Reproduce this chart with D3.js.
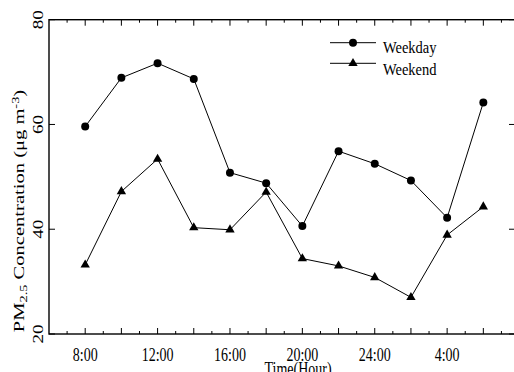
<!DOCTYPE html>
<html>
<head>
<meta charset="utf-8">
<script src="https://cdn.jsdelivr.net/npm/d3@7"></script>
<style>
  body { margin: 0; background: #fff; }
  svg { display: block; }
  text { font-family: "Liberation Serif", "Times New Roman", serif; fill: #000; }
</style>
</head>
<body>
<div id="svg-area"></div>
<script>
var svgWidth = 514;
var svgHeight = 372;

// hours since midnight of first day (28 = 4:00 next day)
var hours = [8, 10, 12, 14, 16, 18, 20, 22, 24, 26, 28, 30];
var weekday = [59.6, 68.9, 71.7, 68.7, 50.8, 48.8, 40.6, 54.9, 52.5, 49.3, 42.2, 64.2];
var weekend = [33.2, 47.2, 53.4, 40.3, 39.9, 47.1, 34.4, 33.0, 30.8, 27.0, 38.9, 44.3];
var xTickHours = [8, 12, 16, 20, 24, 28];
var xTickLabels = ["8:00", "12:00", "16:00", "20:00", "24:00", "4:00"];
var yTicks = [20, 40, 60, 80];
var seriesNames = ["Weekday", "Weekend"];

var margin = {left: 49, right: 515, top: 19.7, bottom: 334};
// the original figure is stretched vertically, so text is too
var stretch = 1.37;

var svg = d3.select("#svg-area")
  .append("svg")
  .attr("width", svgWidth)
  .attr("height", svgHeight);

var x = d3.scaleLinear().domain([6, 31.75]).range([margin.left, margin.right]);
var y = d3.scaleLinear().domain([20, 80]).range([margin.bottom, margin.top]);

// frame
svg.append("rect")
  .attr("x", margin.left).attr("y", margin.top)
  .attr("width", margin.right - margin.left)
  .attr("height", margin.bottom - margin.top)
  .attr("fill", "none").attr("stroke", "#000").attr("stroke-width", 1.4);

// x ticks, every hour, major on even hours
var allHours = d3.range(7, 32);
allHours.forEach(function(h) {
  var len = h % 2 === 0 ? 6 : 3;
  svg.append("line")
    .attr("x1", x(h)).attr("x2", x(h))
    .attr("y1", margin.bottom).attr("y2", margin.bottom - len)
    .attr("stroke", "#000").attr("stroke-width", 1);
  svg.append("line")
    .attr("x1", x(h)).attr("x2", x(h))
    .attr("y1", margin.top).attr("y2", margin.top + len)
    .attr("stroke", "#000").attr("stroke-width", 1);
});

xTickHours.forEach(function(h, i) {
  svg.append("text")
    .attr("transform", "translate(" + x(h) + ",361) scale(1," + stretch + ")")
    .attr("text-anchor", "middle")
    .style("font-size", "14px")
    .text(xTickLabels[i]);
});

// y ticks
yTicks.forEach(function(v) {
  svg.append("line")
    .attr("x1", margin.left).attr("x2", margin.left + 6)
    .attr("y1", y(v)).attr("y2", y(v))
    .attr("stroke", "#000").attr("stroke-width", 1);
  svg.append("line")
    .attr("x1", margin.right).attr("x2", margin.right - 6)
    .attr("y1", y(v)).attr("y2", y(v))
    .attr("stroke", "#000").attr("stroke-width", 1);
  svg.append("text")
    .attr("transform", "translate(43," + y(v) + ") scale(1," + stretch + ") rotate(-90)")
    .attr("text-anchor", "middle")
    .style("font-size", "14px")
    .text(v);
});

// axis titles
svg.append("text")
  .attr("transform", "translate(298,375) scale(1," + stretch + ")")
  .attr("text-anchor", "middle")
  .style("font-size", "14px")
  .text("Time(Hour)");

var yt = svg.append("text")
  .attr("transform", "translate(24,211) scale(1," + stretch + ") rotate(-90)")
  .attr("text-anchor", "middle")
  .style("font-size", "15px");
yt.append("tspan").text("PM");
yt.append("tspan").attr("dy", 3).style("font-size", "10.5px").text("2.5");
yt.append("tspan").attr("dy", -3).text(" Concentration (\u03bcg m");
yt.append("tspan").attr("dy", -5).style("font-size", "10.5px").text("-3");
yt.append("tspan").attr("dy", 5).text(")");

// lines
var line = d3.line()
  .x(function(d) { return x(d[0]); })
  .y(function(d) { return y(d[1]); });

var wdData = d3.zip(hours, weekday);
var weData = d3.zip(hours, weekend);

[wdData, weData].forEach(function(data) {
  svg.append("path")
    .attr("d", line(data))
    .attr("fill", "none").attr("stroke", "#000").attr("stroke-width", 1);
});

var circleSym = d3.symbol().type(d3.symbolCircle).size(50);
var triSym = d3.symbol().type(d3.symbolTriangle).size(38);

svg.selectAll(".wd").data(wdData).enter().append("path")
  .attr("d", circleSym)
  .attr("transform", function(d) { return "translate(" + x(d[0]) + "," + y(d[1]) + ")"; })
  .attr("fill", "#000");

svg.selectAll(".we").data(weData).enter().append("path")
  .attr("d", triSym)
  .attr("transform", function(d) { return "translate(" + x(d[0]) + "," + y(d[1]) + ")"; })
  .attr("fill", "#000");

// legend
var legY = [42.7, 63.3];
var legBase = [53.3, 75];
var legSym = [circleSym, triSym];
seriesNames.forEach(function(name, i) {
  svg.append("line")
    .attr("x1", 330).attr("x2", 376)
    .attr("y1", legY[i]).attr("y2", legY[i])
    .attr("stroke", "#000").attr("stroke-width", 1);
  svg.append("path")
    .attr("d", legSym[i])
    .attr("transform", "translate(353," + legY[i] + ")")
    .attr("fill", "#000");
  svg.append("text")
    .attr("transform", "translate(383," + legBase[i] + ") scale(1,1.22)")
    .style("font-size", "14.5px")
    .text(name);
});
</script>
</body>
</html>
